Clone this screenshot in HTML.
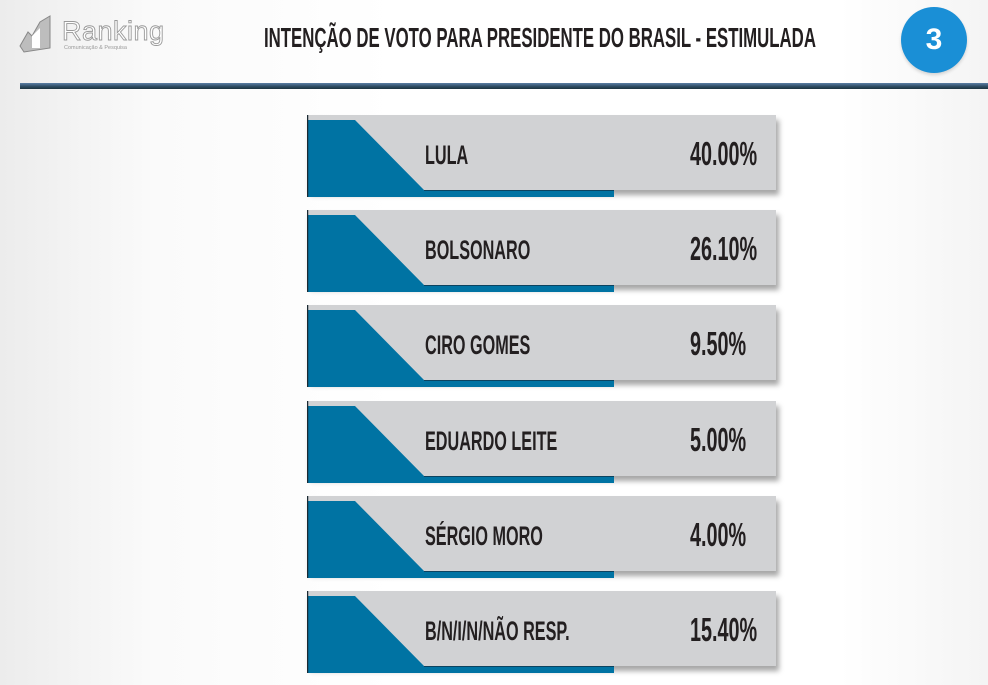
<!DOCTYPE html>
<html><head><meta charset="utf-8"><style>
body{margin:0;width:988px;height:685px;overflow:hidden;background:linear-gradient(90deg,#ececec 0%,#fafafa 15%,#fff 40%,#fff 85%,#f4f4f4 100%);font-family:"Liberation Sans",sans-serif;position:relative}
.cond{font-weight:bold;display:inline-block;transform-origin:left center;color:#231f20;white-space:nowrap}
#title{position:absolute;left:264px;top:22px;font-size:28px;transform:scaleX(0.6)}
#rule{position:absolute;left:20px;top:83px;width:968px;height:6px;background:linear-gradient(#5c7fa6,#2c4a60 60%,#1d3440)}
#badge{position:absolute;left:901px;top:7px;width:66px;height:66px;border-radius:50%;background:#1a8fd6;color:#fff;font:bold 30px "Liberation Sans",sans-serif;text-align:center;line-height:66px;box-shadow:0 2px 3px rgba(0,0,0,.15)}
#logo{position:absolute;left:18px;top:12px;width:150px;height:44px}
.row{position:absolute;left:307px;width:470px;height:84px}
.panel{position:absolute;left:0;top:0;width:469px;height:75px;background:#d1d2d4;box-shadow:3px 5px 5px rgba(0,0,0,.35)}
.lbl{position:absolute;left:118px;top:25px;font-size:27px;transform:scaleX(0.6)}
.val{position:absolute;top:20px;font-size:33px;transform:scaleX(0.6)}
</style></head><body>
<svg id="logo" viewBox="0 0 150 44">
<path d="M2 34 L10 20 L14 24 L22 10 L32 4 L32 36 L6 40 Z" fill="#bdbdbd" stroke="#888" stroke-width="1"/>
<path d="M14 36 L14 24 L22 16 L22 36 Z" fill="#fff"/>
<text x="44" y="28" font-family="Liberation Sans" font-size="27" fill="#fff" stroke="#999" stroke-width="0.9" textLength="102">Ranking</text>
<text x="46" y="37" font-family="Liberation Sans" font-size="5.5" fill="#999">Comunicação &amp; Pesquisa</text>
</svg>
<div id="title" class="cond">INTENÇÃO DE VOTO PARA PRESIDENTE DO BRASIL - ESTIMULADA</div>
<div id="badge">3</div>
<div id="rule"></div>
<div id="rows"></div>
<script>
const candidates=["LULA","BOLSONARO","CIRO GOMES","EDUARDO LEITE","SÉRGIO MORO","B/N/I/N/NÃO RESP."];
const values=[40.00,26.10,9.50,5.00,4.00,15.40];
const rows=document.getElementById('rows');
candidates.forEach((c,i)=>{
  const r=document.createElement('div');
  r.className='row';r.style.top=(115+i*95.2)+'px';
  
  
  const v=values[i].toFixed(2)+'%';
  r.innerHTML='<div class="panel"></div>'+
   '<svg style="position:absolute;left:0;top:0" width="320" height="84"><polygon points="0,5 48,5 117,75 307,75 307,82 0,82" fill="#0073a3"/><line x1="0.5" y1="0" x2="0.5" y2="82" stroke="#1b2a33" stroke-width="1.5"/><line x1="117" y1="75.5" x2="307" y2="75.5" stroke="#0b4360"/></svg>'+
   '<span class="cond lbl">'+c+'</span><span class="cond val" style="left:383px">'+v+'</span>';
  rows.appendChild(r);
  const l=r.querySelector('.lbl');
  const p=r.querySelector('.val');
  const b=r.querySelector('svg');
});
</script>
</body></html>
